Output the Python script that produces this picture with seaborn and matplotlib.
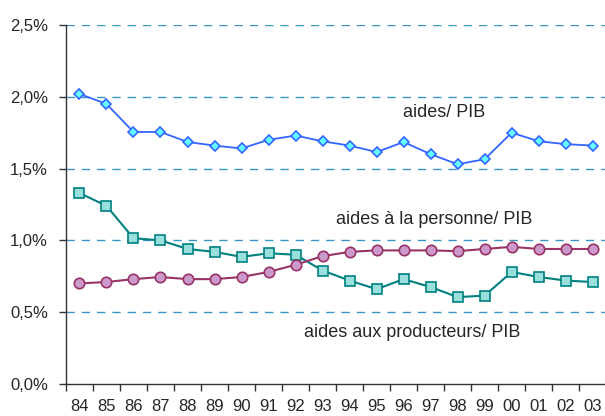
import pandas as pd
import matplotlib.pyplot as plt
import seaborn as sns
from matplotlib.ticker import FixedLocator, FuncFormatter

# --- Data ---
years = ['84', '85', '86', '87', '88', '89', '90', '91', '92', '93',
         '94', '95', '96', '97', '98', '99', '00', '01', '02', '03']
aides_pib = [2.02, 1.95, 1.755, 1.755, 1.685, 1.66, 1.64, 1.70, 1.73, 1.69,
             1.66, 1.615, 1.685, 1.60, 1.53, 1.565, 1.75, 1.69, 1.67, 1.66]
aides_producteurs = [1.33, 1.24, 1.015, 1.0, 0.94, 0.92, 0.885, 0.91, 0.90, 0.79,
                     0.72, 0.66, 0.73, 0.675, 0.605, 0.615, 0.78, 0.745, 0.72, 0.71]
aides_personne = [0.70, 0.71, 0.73, 0.745, 0.73, 0.73, 0.745, 0.78, 0.83, 0.89,
                  0.92, 0.93, 0.93, 0.93, 0.925, 0.94, 0.955, 0.94, 0.94, 0.94]

df = pd.DataFrame({
    'pos': range(len(years)),
    'aides': aides_pib,
    'producteurs': aides_producteurs,
    'personne': aides_personne,
})

sns.set_style('white')
plt.rcParams['font.family'] = ['Liberation Sans', 'DejaVu Sans']

fig = plt.figure(figsize=(6.05, 4.16), dpi=100)
ax = fig.add_axes([0.109, 0.077, 0.893, 0.863])

sns.lineplot(data=df, x='pos', y='aides', ax=ax, color='#3366FF', lw=1.3,
             marker='D', markersize=5.5, markerfacecolor='#66FFFF',
             markeredgecolor='#3366FF', markeredgewidth=1.2, zorder=4)
sns.lineplot(data=df, x='pos', y='producteurs', ax=ax, color='#008080', lw=1.5,
             marker='s', markersize=7, markerfacecolor='#99E0DD',
             markeredgecolor='#008080', markeredgewidth=1.2, zorder=3)
sns.lineplot(data=df, x='pos', y='personne', ax=ax, color='#993366', lw=1.5,
             marker='o', markersize=7.5, markerfacecolor='#CC99CC',
             markeredgecolor='#993366', markeredgewidth=1.2, zorder=3)

ax.set_xlim(-0.5, len(years) - 0.5)
ax.set_ylim(0, 2.5)

# dashed gridlines
for v in [0.5, 1.0, 1.5, 2.0, 2.5]:
    ax.axhline(v, color='#3A96C8', lw=1, ls=(0, (6, 5)), zorder=1)

ax.set_yticks([0, 0.5, 1.0, 1.5, 2.0, 2.5])
ax.yaxis.set_major_formatter(FuncFormatter(lambda v, p: f'{v:.1f}%'.replace('.', ',')))

ax.xaxis.set_major_locator(FixedLocator([i - 0.5 for i in range(len(years) + 1)]))
ax.xaxis.set_major_formatter(FuncFormatter(lambda v, p: ''))
ax.xaxis.set_minor_locator(FixedLocator(list(range(len(years)))))
ax.set_xticklabels(years, minor=True)
ax.tick_params(axis='x', which='major', direction='out', length=5, width=1, color='#333333', bottom=True)
ax.tick_params(axis='x', which='minor', length=0, pad=11, labelsize=12)
ax.tick_params(axis='y', direction='out', length=5, width=1, color='#333333', left=True,
               labelsize=12, pad=8)

for s in ['top', 'right']:
    ax.spines[s].set_visible(False)
for s in ['left', 'bottom']:
    ax.spines[s].set_color('#333333')
    ax.spines[s].set_linewidth(1)

ax.set_xlabel('')
ax.set_ylabel('')

ax.text(13.5, 1.887, 'aides/ PIB', fontsize=13, ha='center', va='center')
ax.text(13.13, 1.142, 'aides à la personne/ PIB', fontsize=13, ha='center', va='center')
ax.text(12.3, 0.355, 'aides aux producteurs/ PIB', fontsize=13, ha='center', va='center')

fig.savefig('out.png', dpi=100)
